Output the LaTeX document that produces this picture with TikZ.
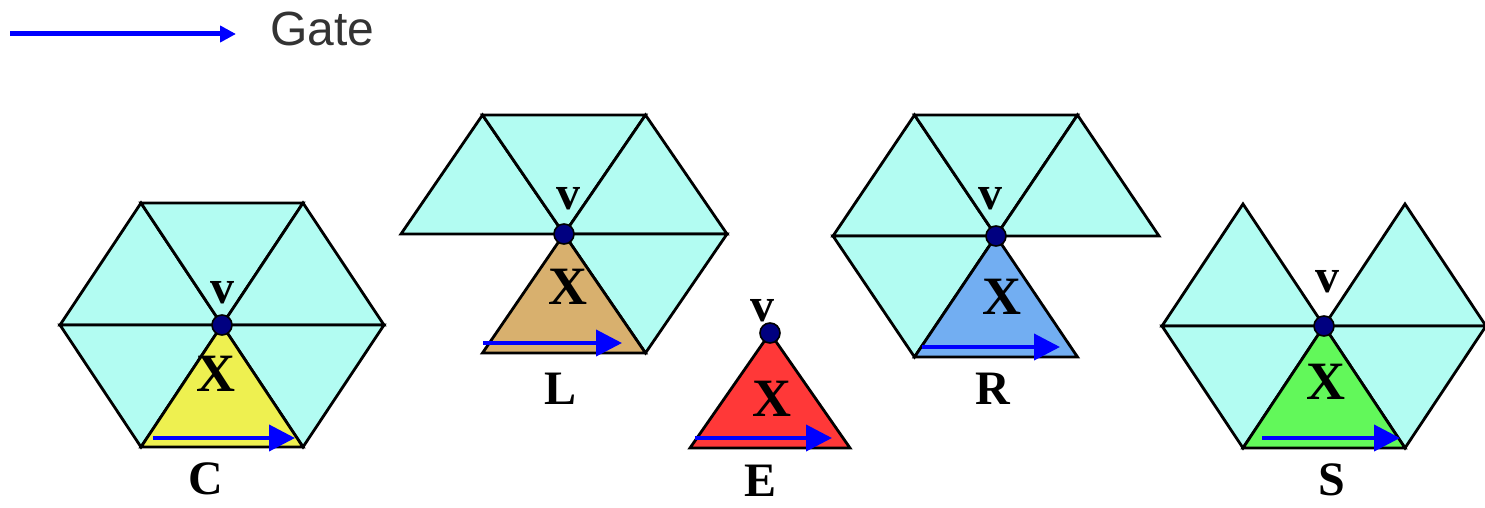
\documentclass[tikz,border=0pt]{standalone}
\usepackage{fontspec}
\setmainfont{Liberation Serif}
\setsansfont{Liberation Sans}
\usepackage{xcolor}
\usetikzlibrary{arrows.meta}

\definecolor{wedgecyan}{HTML}{B2FCF2}
\definecolor{cyellow}{HTML}{EEF050}
\definecolor{ltan}{HTML}{D8B06E}
\definecolor{ered}{HTML}{FF3838}
\definecolor{rblue}{HTML}{72AEF2}
\definecolor{sgreen}{HTML}{62F85A}
\definecolor{vnavy}{HTML}{000080}
\definecolor{gateblue}{HTML}{0000FF}
\definecolor{keygray}{HTML}{333333}

% corner points of one wheel: name, centre x, centre y, half side, height
\newcommand{\hexcoords}[5]{%
  \coordinate (#1-v)  at (#2,#3);
  \coordinate (#1-w)  at ({#2-2*#4},#3);
  \coordinate (#1-e)  at ({#2+2*#4},#3);
  \coordinate (#1-nw) at ({#2-#4},{#3-#5});
  \coordinate (#1-ne) at ({#2+#4},{#3-#5});
  \coordinate (#1-sw) at ({#2-#4},{#3+#5});
  \coordinate (#1-se) at ({#2+#4},{#3+#5});
}

\begin{document}
\begin{tikzpicture}[
  x=0.5pt, y=-0.5pt,
  tri/.style={draw=black, line width=1.4pt, line join=miter},
  wedge/.style={tri, fill=wedgecyan},
  vdot/.style={circle, draw=black, fill=vnavy, line width=0.8pt,
               minimum size=10pt, inner sep=0pt},
  vlbl/.style={font=\fontsize{24}{26}\selectfont\bfseries, inner sep=0pt},
  xlbl/.style={font=\fontsize{27}{29}\selectfont\bfseries, inner sep=0pt},
  cfg/.style={font=\fontsize{24}{26}\selectfont\bfseries, inner sep=0pt},
  gatearrow/.style={draw=gateblue, line width=2pt,
                    -{Triangle[length=13pt, width=13pt]}},
  keyarrow/.style={draw=gateblue, line width=2.5pt,
                   -{Triangle[length=8pt, width=8pt]}},
  keytxt/.style={font=\sffamily\fontsize{24}{26}\selectfont, text=keygray,
                 inner sep=0pt},
]
\useasboundingbox (0,0) rectangle (1485,508);

% legend
\coordinate (key-a) at (10,34);
\coordinate (key-b) at (236,34);
\draw[keyarrow] (key-a) -- (key-b);
\node[keytxt, anchor=base west] (gatelbl) at (270,46) {Gate};

% C: full wheel
\hexcoords{C}{222}{325}{81}{122}
\foreach \a/\b in {w/nw, nw/ne, ne/e, e/se, w/sw}
  \draw[wedge] (C-v) -- (C-\a) -- (C-\b) -- cycle;
\draw[tri, fill=cyellow] (C-v) -- (C-sw) -- (C-se) -- cycle;
\coordinate (C-g0) at (153,438);
\coordinate (C-g1) at (295,438);
\draw[gatearrow] (C-g0) -- (C-g1);
\node[vdot] (C-dot) at (C-v) {};
\node[vlbl] (C-vl) at (222,293) {v};
\node[xlbl] (C-xl) at (216,374) {X};
\node[cfg] (C-name) at (206,479) {C};

% L: lower left wedge missing
\hexcoords{L}{564}{234}{81.5}{119}
\foreach \a/\b in {w/nw, nw/ne, ne/e, e/se}
  \draw[wedge] (L-v) -- (L-\a) -- (L-\b) -- cycle;
\draw[tri, fill=ltan] (L-v) -- (L-sw) -- (L-se) -- cycle;
\coordinate (L-g0) at (483,343);
\coordinate (L-g1) at (622,343);
\draw[gatearrow] (L-g0) -- (L-g1);
\node[vdot] (L-dot) at (L-v) {};
\node[vlbl] (L-vl) at (568,199) {v};
\node[xlbl] (L-xl) at (568,287) {X};
\node[cfg] (L-name) at (561,389) {L};

% E: lone triangle
\hexcoords{E}{770}{333}{80}{115}
\draw[tri, fill=ered] (E-v) -- (E-sw) -- (E-se) -- cycle;
\coordinate (E-g0) at (695,438);
\coordinate (E-g1) at (832,438);
\draw[gatearrow] (E-g0) -- (E-g1);
\node[vdot] (E-dot) at (E-v) {};
\node[vlbl] (E-vl) at (762,311) {v};
\node[xlbl] (E-xl) at (772,399) {X};
\node[cfg] (E-name) at (761,481) {E};

% R: lower right wedge missing
\hexcoords{R}{996}{236}{81.5}{121}
\foreach \a/\b in {w/nw, nw/ne, ne/e, w/sw}
  \draw[wedge] (R-v) -- (R-\a) -- (R-\b) -- cycle;
\draw[tri, fill=rblue] (R-v) -- (R-sw) -- (R-se) -- cycle;
\coordinate (R-g0) at (922,347);
\coordinate (R-g1) at (1060,347);
\draw[gatearrow] (R-g0) -- (R-g1);
\node[vdot] (R-dot) at (R-v) {};
\node[vlbl] (R-vl) at (990,199) {v};
\node[xlbl] (R-xl) at (1002,297) {X};
\node[cfg] (R-name) at (993,389) {R};

% S: top wedge missing
\hexcoords{S}{1324}{326}{81}{122}
\foreach \a/\b in {w/nw, ne/e, e/se, w/sw}
  \draw[wedge] (S-v) -- (S-\a) -- (S-\b) -- cycle;
\draw[tri, fill=sgreen] (S-v) -- (S-sw) -- (S-se) -- cycle;
\coordinate (S-g0) at (1262,438);
\coordinate (S-g1) at (1400,438);
\draw[gatearrow] (S-g0) -- (S-g1);
\node[vdot] (S-dot) at (S-v) {};
\node[vlbl] (S-vl) at (1327,282) {v};
\node[xlbl] (S-xl) at (1326,382) {X};
\node[cfg] (S-name) at (1332,480) {S};
\end{tikzpicture}
\end{document}
